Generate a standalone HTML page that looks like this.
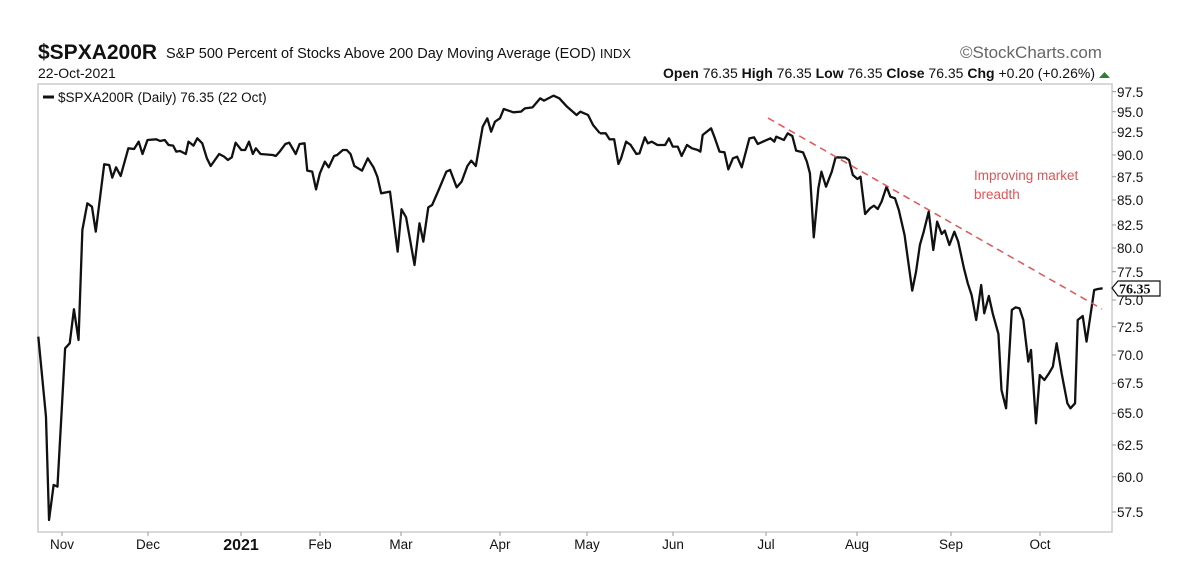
<!DOCTYPE html>
<html><head><meta charset="utf-8"><style>
html,body{margin:0;padding:0;background:#fff;}
svg{display:block;font-family:"Liberation Sans",Arial,sans-serif;}
</style></head><body>
<svg width="1199" height="585" viewBox="0 0 1199 585" xmlns="http://www.w3.org/2000/svg">
<rect width="1199" height="585" fill="#fff"/>
<text x="38" y="59" font-size="21" font-weight="bold" fill="#111">$SPXA200R</text>
<text x="166" y="58" font-size="14.5" fill="#111">S&amp;P 500 Percent of Stocks Above 200 Day Moving Average (EOD) <tspan font-size="13">INDX</tspan></text>
<text x="38" y="78" font-size="14" fill="#111">22-Oct-2021</text>
<text x="1095" y="78" font-size="14" fill="#111" text-anchor="end"><tspan font-weight="bold">Open</tspan> 76.35  <tspan font-weight="bold">High</tspan> 76.35  <tspan font-weight="bold">Low</tspan> 76.35  <tspan font-weight="bold">Close</tspan> 76.35  <tspan font-weight="bold">Chg</tspan> +0.20 (+0.26%)</text>
<polygon points="1099,78 1110,78 1104.5,72" fill="#2e7d32"/>
<text x="960" y="58" font-size="17" fill="#666">©StockCharts.com</text>
<rect x="38" y="84" width="1074" height="448" fill="none" stroke="#ccc" stroke-width="1.5"/>
<line x1="43" y1="97" x2="54" y2="97" stroke="#111" stroke-width="3"/>
<text x="58" y="102" font-size="13.5" fill="#111">$SPXA200R (Daily) 76.35 (22 Oct)</text>
<g font-size="13.5" fill="#111">
<text x="1117" y="97">97.5</text><text x="1117" y="117">95.0</text><text x="1117" y="137">92.5</text><text x="1117" y="160">90.0</text><text x="1117" y="182">87.5</text><text x="1117" y="205">85.0</text><text x="1117" y="230">82.5</text><text x="1117" y="253">80.0</text><text x="1117" y="277">77.5</text><text x="1117" y="305">75.0</text><text x="1117" y="332">72.5</text><text x="1117" y="360">70.0</text><text x="1117" y="388">67.5</text><text x="1117" y="418">65.0</text><text x="1117" y="450">62.5</text><text x="1117" y="482">60.0</text><text x="1117" y="517">57.5</text>
</g>
<g stroke="#999" stroke-width="1">
<line x1="1112" y1="91.7" x2="1116" y2="91.7"/><line x1="1112" y1="111.7" x2="1116" y2="111.7"/><line x1="1112" y1="132.3" x2="1116" y2="132.3"/><line x1="1112" y1="155" x2="1116" y2="155"/><line x1="1112" y1="176.7" x2="1116" y2="176.7"/><line x1="1112" y1="200" x2="1116" y2="200"/><line x1="1112" y1="225" x2="1116" y2="225"/><line x1="1112" y1="248" x2="1116" y2="248"/><line x1="1112" y1="271.7" x2="1116" y2="271.7"/><line x1="1112" y1="300" x2="1116" y2="300"/><line x1="1112" y1="326.7" x2="1116" y2="326.7"/><line x1="1112" y1="355" x2="1116" y2="355"/><line x1="1112" y1="383.3" x2="1116" y2="383.3"/><line x1="1112" y1="413.3" x2="1116" y2="413.3"/><line x1="1112" y1="445" x2="1116" y2="445"/><line x1="1112" y1="476.7" x2="1116" y2="476.7"/><line x1="1112" y1="512" x2="1116" y2="512"/>
</g>
<polygon points="1112,288 1118,281 1160,281 1160,296 1118,296" fill="#fff" stroke="#111" stroke-width="1.2"/>
<text x="1119" y="293.5" font-size="14" font-weight="bold" fill="#111" font-family="Liberation Serif,serif">76.35</text>
<g font-size="13.5" fill="#111" text-anchor="middle">
<text x="62" y="549">Nov</text><text x="148" y="549">Dec</text><text x="241" y="550" font-weight="bold" font-size="16">2021</text><text x="320" y="549">Feb</text><text x="401" y="549">Mar</text><text x="500" y="549">Apr</text><text x="587" y="549">May</text><text x="673" y="549">Jun</text><text x="766" y="549">Jul</text><text x="857" y="549">Aug</text><text x="951" y="549">Sep</text><text x="1040" y="549">Oct</text>
</g>
<g stroke="#999" stroke-width="1">
<line x1="62" y1="532" x2="62" y2="536"/><line x1="148" y1="532" x2="148" y2="536"/><line x1="241" y1="532" x2="241" y2="536"/><line x1="320" y1="532" x2="320" y2="536"/><line x1="401" y1="532" x2="401" y2="536"/><line x1="500" y1="532" x2="500" y2="536"/><line x1="587" y1="532" x2="587" y2="536"/><line x1="673" y1="532" x2="673" y2="536"/><line x1="766" y1="532" x2="766" y2="536"/><line x1="857" y1="532" x2="857" y2="536"/><line x1="951" y1="532" x2="951" y2="536"/><line x1="1040" y1="532" x2="1040" y2="536"/>
</g>
<g fill="none" stroke="#111" stroke-width="2.3" stroke-linejoin="round">
<polyline vector-effect="non-scaling-stroke" transform="translate(0,80) scale(0.3831,0.3333)" points="100,770 120,1010 128,1320 140,1215 150,1220 170,805 182,790 193,688 205,780 215,450 228,370 240,380 250,455 272,253 285,255 293,293 303,262 315,288 335,205 350,207 362,185 372,222 385,180 408,178 418,183 430,180 440,195 452,197 460,215 470,213 485,222 492,185 505,197 515,175 528,190 540,235 550,258 572,222 585,230 595,240 605,232 615,188 630,210 640,210 650,185 660,222 668,205 680,222 712,225 720,228 730,215 745,192 755,188 772,222 782,192 795,190 802,272 815,275 825,328 835,280 848,245 858,262 872,228 880,225 895,210 905,210 915,222 925,258 945,272 960,235 975,262 985,290 995,340 1018,335 1038,515 1048,388 1060,412 1082,555 1095,430 1105,485 1118,382 1128,375 1145,330 1165,275 1175,270 1192,322 1205,305 1220,258 1230,242 1242,258 1260,140 1272,115 1282,155 1292,125 1305,115 1315,87 1340,97 1360,95 1370,85 1390,82 1410,55 1420,62 1445,47 1460,55 1480,80 1505,105 1515,95 1535,105 1548,135 1566,160"/>
<polyline vector-effect="non-scaling-stroke" transform="translate(600,80) scale(0.3831,0.3333)" points="0,160 15,160 25,178 37,178 48,252 55,235 68,185 80,195 95,222 103,220 117,172 125,190 135,185 150,195 170,195 180,175 190,200 203,200 213,228 227,195 240,205 255,210 262,215 268,165 290,145 300,175 312,215 325,217 335,268 347,235 358,230 370,262 390,175 402,172 412,192 425,185 445,175 455,185 460,170 470,175 480,180 490,160 502,168 512,212 530,217 540,245 548,280 558,472 570,325 578,275 590,320 605,275 615,232 640,233 650,240 660,285 672,297 680,290 692,402 705,385 715,377 725,387 735,365 748,320 758,350 770,355 780,390 795,465 815,632 825,575 835,495 845,455 858,395 870,510 880,425 892,462 900,452 912,495 925,455 935,485 950,565 960,610 970,645 982,720 995,615 1003,700 1015,648 1025,700 1040,762 1048,930 1060,985 1075,690 1085,682 1095,685 1105,720 1118,845 1125,810 1138,1030 1148,885 1160,900 1172,880 1182,860 1192,790 1205,880 1220,970 1228,985 1240,970 1247,720 1260,708 1270,785 1290,630 1300,627 1312,625"/>
</g>
<line x1="768" y1="118" x2="1102" y2="309" stroke="#e05555" stroke-width="1.5" stroke-dasharray="7,5"/>
<text x="974" y="180" font-size="13.5" fill="#e05555">Improving market</text>
<text x="974" y="199" font-size="13.5" fill="#e05555">breadth</text>
</svg>
</body></html>
